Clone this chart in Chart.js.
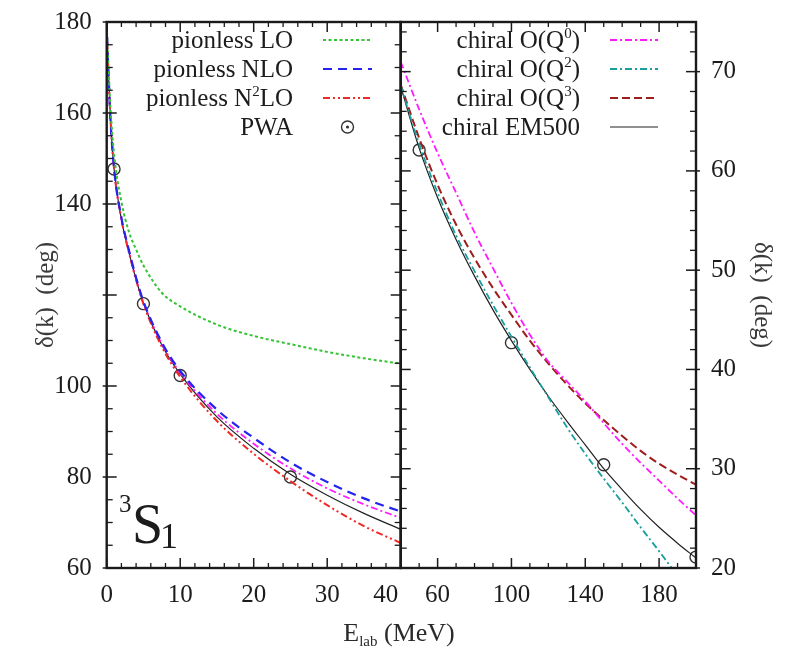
<!DOCTYPE html>
<html><head><meta charset="utf-8">
<script src="https://cdn.jsdelivr.net/npm/chart.js@4.4.1/dist/chart.umd.min.js"></script>
<style>
html,body{margin:0;padding:0;background:#fff;}
#wrap{position:relative;width:795px;height:648px;}
canvas{position:absolute;left:0;top:0;}
</style></head><body>
<div id="wrap"><canvas id="cL" width="795" height="648"></canvas><canvas id="cR" width="795" height="648"></canvas></div>
<script>
// ---------- data ----------
const E_LEFT = [0, 0.1, 0.25, 0.5, 1, 2, 3, 4, 5, 7.5, 10, 15, 20, 25, 30, 35, 40];
const PIONLESS_LO   = [180, 175, 170, 161.5, 151, 140.5, 134, 130, 126.5, 120.5, 117.5, 113.5, 111, 109.2, 107.5, 106.1, 104.9];
const PIONLESS_NLO  = [180, 174.5, 168.5, 159, 147.9, 137, 130, 123.8, 118.6, 109.6, 103.3, 94.8, 88.6, 83.2, 78.9, 75.3, 72.4];
const PIONLESS_N2LO = [180, 174.5, 168.5, 159, 147.7, 136.6, 129.5, 123.3, 118, 108.6, 102, 92.3, 85.1, 79.1, 73.8, 69.2, 65.5];
const CHIRAL_Q0_LEFT    = [180, 174.5, 168.5, 159, 147.8, 136.8, 129.8, 123.6, 118.4, 109.3, 102.9, 93.9, 87.3, 81.9, 77.5, 74, 71];
const CHIRAL_EM500_LEFT = [180, 174.5, 168.5, 159, 147.7, 136.6, 129.6, 123.4, 118.2, 109, 102.6, 93.2, 86.3, 80.6, 76, 72, 68.5];
const PWA_E_LEFT = [1, 5, 10, 25];
const PWA_LEFT   = [147.7, 118.1, 102.3, 80.0];

const E_RIGHT = [40, 50, 60, 70, 80, 90, 100, 110, 120, 130, 140, 150, 160, 170, 180, 190, 200];
const CHIRAL_Q0_RIGHT    = [71, 66.2, 61.8, 57.8, 53.8, 50.2, 46.7, 43.5, 40.8, 38.8, 36.8, 34.6, 32.5, 30.6, 28.8, 27, 25.3];
const CHIRAL_Q2_RIGHT    = [68.6, 62.7, 57.8, 53.5, 49.9, 46.5, 43.3, 40.2, 37.2, 34.2, 31.5, 29.0, 26.6, 24.1, 21.7, 19.2, 16.7];
const CHIRAL_Q3_RIGHT    = [68.7, 63.3, 58.6, 54.6, 51.2, 48.2, 45.5, 42.9, 40.6, 38.5, 36.6, 34.9, 33.3, 31.8, 30.5, 29.4, 28.4];
const CHIRAL_EM500_RIGHT = [68.5, 62.3, 57.3, 53.1, 49.4, 46.0, 42.9, 40.0, 37.3, 34.8, 32.4, 30.0, 27.9, 25.9, 24.1, 22.5, 21.0];
const PWA_E_RIGHT = [50, 100, 150, 200];
const PWA_RIGHT   = [62.1, 42.7, 30.4, 21.1];

// tick values
const LEFT_X_LABELS  = [0, 10, 20, 30, 40];
const LEFT_X_MINOR   = [2, 4, 6, 8, 12, 14, 16, 18, 22, 24, 26, 28, 32, 34, 36, 38];
const LEFT_Y_MAJOR   = [60, 80, 100, 120, 140, 160, 180];
const LEFT_Y_LABELS  = [60, 80, 100, 140, 160, 180];
const LEFT_Y_MINOR   = [65, 70, 75, 85, 90, 95, 105, 110, 115, 125, 130, 135, 145, 150, 155, 165, 170, 175];
const RIGHT_X_LABELS = [60, 100, 140, 180];
const RIGHT_X_MINOR  = [50, 70, 80, 90, 110, 120, 130, 150, 160, 170, 190];
const RIGHT_Y_LABELS = [20, 30, 40, 50, 60, 70];
const RIGHT_Y_MINOR  = [22, 24, 26, 28, 32, 34, 36, 38, 42, 44, 46, 48, 52, 54, 56, 58, 62, 64, 66, 68, 72, 74];

// ---------- helpers ----------
const FONT = "'Liberation Serif', 'Times New Roman', serif";
const TXT = '#1c1c1c';
const pts = (xs, ys) => xs.map((x, i) => ({x: x, y: ys[i]}));
const curve = {pointRadius: 0, fill: false, cubicInterpolationMode: 'monotone', tension: 0};
const SUP = {'⁰':'0','¹':'1','²':'2','³':'3','⁴':'4','⁵':'5','⁶':'6','⁷':'7','⁸':'8','⁹':'9'};

function runs(text) {
  const out = [];
  for (const ch of text) {
    const sup = ch in SUP;
    const c = sup ? SUP[ch] : ch;
    if (out.length && out[out.length - 1].sup === sup) out[out.length - 1].t += c;
    else out.push({t: c, sup: sup});
  }
  return out;
}
function drawRichRight(ctx, text, xRight, yMid, size) {
  const rs = runs(text);
  const f = s => `${s}px ${FONT}`;
  let w = 0;
  rs.forEach(r => { ctx.font = f(r.sup ? size * 0.6 : size); r.w = ctx.measureText(r.t).width; w += r.w; });
  let x = xRight - w;
  const base = yMid + size * 0.32;
  ctx.textAlign = 'left'; ctx.textBaseline = 'alphabetic'; ctx.fillStyle = TXT;
  rs.forEach(r => {
    ctx.font = f(r.sup ? size * 0.6 : size);
    ctx.fillText(r.t, x, r.sup ? base - size * 0.4 : base);
    x += r.w;
  });
}

const panelDeco = {
  id: 'panelDeco',
  afterDatasetsDraw(chart, args, o) {
    const {ctx, chartArea: a, scales} = chart;
    const sx = scales.x, sy = scales.y;
    ctx.save();
    ctx.strokeStyle = '#1a1a1a';
    ctx.setLineDash([]);
    const seg = (x1, y1, x2, y2, w) => { ctx.lineWidth = w; ctx.beginPath(); ctx.moveTo(x1, y1); ctx.lineTo(x2, y2); ctx.stroke(); };
    o.xMajor.forEach(v => { const x = sx.getPixelForValue(v); seg(x, a.bottom, x, a.bottom - 10, 1.5); seg(x, a.top, x, a.top + 10, 1.5); });
    o.xMinor.forEach(v => { const x = sx.getPixelForValue(v); seg(x, a.bottom, x, a.bottom - 5, 1.3); seg(x, a.top, x, a.top + 5, 1.3); });
    const outer = o.yOuter === 'left' ? a.left : a.right;
    const inner = o.yOuter === 'left' ? a.right : a.left;
    const dOut = o.yOuter === 'left' ? 1 : -1;
    o.yMajor.forEach(v => { const y = sy.getPixelForValue(v);
      seg(outer - 4 * dOut, y, outer + 10 * dOut, y, 1.5); seg(inner, y, inner - 10 * dOut, y, 1.5); });
    o.yMinor.forEach(v => { const y = sy.getPixelForValue(v);
      seg(outer, y, outer + 6 * dOut, y, 1.3); seg(inner, y, inner - 6 * dOut, y, 1.3); });
    ctx.lineWidth = 2.4;
    ctx.strokeRect(a.left, a.top, a.right - a.left, a.bottom - a.top);

    // legend
    const L = o.legend;
    let row = 0;
    chart.data.datasets.forEach(ds => {
      if (ds.noLegend) return;
      const y = L.rows[row++];
      drawRichRight(ctx, ds.label, L.right, y, L.size);
      ctx.save();
      if (ds.showLine === false) {
        const cx = (L.x1 + L.x2) / 2;
        ctx.strokeStyle = ds.pointBorderColor; ctx.lineWidth = ds.pointBorderWidth;
        ctx.beginPath(); ctx.arc(cx, y, 6, 0, Math.PI * 2); ctx.stroke();
        ctx.fillStyle = ds.pointBorderColor;
        ctx.beginPath(); ctx.arc(cx, y, 1.6, 0, Math.PI * 2); ctx.fill();
      } else {
        ctx.strokeStyle = ds.borderColor; ctx.lineWidth = ds.borderWidth;
        ctx.setLineDash(ds.borderDash || []);
        ctx.beginPath(); ctx.moveTo(L.x1, y); ctx.lineTo(L.x2, y); ctx.stroke();
      }
      ctx.restore();
    });
    if (o.extra) o.extra(ctx, a);
    ctx.restore();
  }
};

function tickCfg(labels) {
  return s => { s.ticks = labels.map(v => ({value: v})); };
}
const tickFont = {family: FONT, size: 25};

// ---------- left panel ----------
new Chart(document.getElementById('cL'), {
  type: 'line',
  data: {datasets: [
    {label: 'pionless LO', data: pts(E_LEFT, PIONLESS_LO), borderColor: '#35c435', borderWidth: 2, borderDash: [3, 2.5], ...curve},
    {label: 'pionless NLO', data: pts(E_LEFT, PIONLESS_NLO), borderColor: '#2424ee', borderWidth: 2.2, borderDash: [9, 6], ...curve},
    {label: 'pionless N²LO', data: pts(E_LEFT, PIONLESS_N2LO), borderColor: '#f02828', borderWidth: 2, borderDash: [7, 3, 2, 3, 2, 3], ...curve},
    {label: 'PWA', data: pts(PWA_E_LEFT, PWA_LEFT), showLine: false, pointRadius: 6, pointStyle: 'circle',
     pointBorderColor: '#333333', pointBackgroundColor: 'rgba(0,0,0,0)', pointBorderWidth: 1.4, borderColor: '#333333'},
    {label: 'chiral O(Q⁰)', noLegend: true, data: pts(E_LEFT, CHIRAL_Q0_LEFT), borderColor: '#ff1aff', borderWidth: 1.8, borderDash: [7, 3, 2, 3], ...curve},
    {label: 'chiral EM500', noLegend: true, data: pts(E_LEFT, CHIRAL_EM500_LEFT), borderColor: '#222222', borderWidth: 1.2, ...curve}
  ]},
  options: {
    responsive: false, animation: false, events: [],
    layout: {autoPadding: false, padding: {left: 0, top: 14, right: 795 - 400.7, bottom: 0}},
    plugins: {
      legend: {display: false}, tooltip: {enabled: false},
      panelDeco: {
        xMajor: LEFT_X_LABELS, xMinor: LEFT_X_MINOR, yMajor: LEFT_Y_MAJOR, yMinor: LEFT_Y_MINOR, yOuter: 'left',
        legend: {right: 293, x1: 323, x2: 372, rows: [40, 69, 98, 127], size: 25},
        extra: (ctx) => {
          ctx.fillStyle = TXT; ctx.textBaseline = 'alphabetic'; ctx.textAlign = 'left';
          // 3S1 label
          ctx.font = `25px ${FONT}`; ctx.fillText('3', 119, 512);
          ctx.font = `56px ${FONT}`; ctx.fillText('S', 132, 543);
          ctx.font = `36px ${FONT}`; ctx.fillText('1', 160, 548);
          // x-axis title  E_lab (MeV)
          const parts = [{t: 'E', s: 26, dy: 0}, {t: 'lab', s: 15, dy: 5}, {t: ' (MeV)', s: 26, dy: 0}];
          let w = 0;
          parts.forEach(p => { ctx.font = `${p.s}px ${FONT}`; p.w = ctx.measureText(p.t).width; w += p.w; });
          let x = 399 - w / 2;
          ctx.fillStyle = '#2a2a2a';
          parts.forEach(p => { ctx.font = `${p.s}px ${FONT}`; ctx.fillText(p.t, x, 641 + p.dy); x += p.w; });
        }
      }
    },
    scales: {
      x: {type: 'linear', min: 0, max: 40, position: 'bottom', grid: {display: false}, border: {display: false},
          afterBuildTicks: tickCfg(LEFT_X_LABELS), afterFit: s => { s.height = 80; },
          ticks: {font: tickFont, color: TXT, padding: 4, maxRotation: 0, autoSkip: false,
                  callback: v => (v === 40 ? '40    \u2009' : String(v))}},
      y: {type: 'linear', min: 60, max: 180, position: 'left', grid: {display: false}, border: {display: false},
          afterBuildTicks: tickCfg(LEFT_Y_LABELS), afterFit: s => { s.width = 106.7; },
          ticks: {font: tickFont, color: TXT, padding: 7, autoSkip: false},
          title: {display: true, text: 'δ(k)  (deg)', font: {family: FONT, size: 25}, color: '#3a3a3a', padding: {top: 31, bottom: 0}}}
    }
  },
  plugins: [panelDeco]
});

// ---------- right panel ----------
new Chart(document.getElementById('cR'), {
  type: 'line',
  data: {datasets: [
    {label: 'chiral O(Q⁰)', data: pts(E_RIGHT, CHIRAL_Q0_RIGHT), borderColor: '#ff1aff', borderWidth: 1.8, borderDash: [7, 3, 2, 3], ...curve},
    {label: 'chiral O(Q²)', data: pts(E_RIGHT, CHIRAL_Q2_RIGHT), borderColor: '#1a9e9e', borderWidth: 1.8, borderDash: [7, 3, 2, 3], ...curve},
    {label: 'chiral O(Q³)', data: pts(E_RIGHT, CHIRAL_Q3_RIGHT), borderColor: '#9e1e1e', borderWidth: 2, borderDash: [8, 4], ...curve},
    {label: 'chiral EM500', data: pts(E_RIGHT, CHIRAL_EM500_RIGHT), borderColor: '#222222', borderWidth: 1.2, ...curve},
    {label: 'PWA', noLegend: true, data: pts(PWA_E_RIGHT, PWA_RIGHT), showLine: false, pointRadius: 6, pointStyle: 'circle',
     pointBorderColor: '#333333', pointBackgroundColor: 'rgba(0,0,0,0)', pointBorderWidth: 1.4, borderColor: '#333333'}
  ]},
  options: {
    responsive: false, animation: false, events: [],
    layout: {autoPadding: false, padding: {left: 400.7, top: 14, right: 0, bottom: 0}},
    plugins: {
      legend: {display: false}, tooltip: {enabled: false},
      panelDeco: {
        xMajor: RIGHT_X_LABELS, xMinor: RIGHT_X_MINOR, yMajor: RIGHT_Y_LABELS, yMinor: RIGHT_Y_MINOR, yOuter: 'right',
        legend: {right: 580, x1: 610, x2: 658, rows: [40, 69, 98, 127], size: 25}
      }
    },
    scales: {
      x: {type: 'linear', min: 40, max: 200, position: 'bottom', grid: {display: false}, border: {display: false},
          afterBuildTicks: tickCfg(RIGHT_X_LABELS), afterFit: s => { s.height = 80; },
          ticks: {font: tickFont, color: TXT, padding: 4, maxRotation: 0, autoSkip: false}},
      y: {type: 'linear', min: 20, max: 75, position: 'right', grid: {display: false}, border: {display: false},
          afterBuildTicks: tickCfg(RIGHT_Y_LABELS), afterFit: s => { s.width = 99; },
          ticks: {font: tickFont, color: TXT, padding: 7, autoSkip: false},
          title: {display: true, text: 'δ(k)  (deg)', font: {family: FONT, size: 25}, color: '#3a3a3a', padding: {top: 18, bottom: 0}}}
    }
  },
  plugins: [panelDeco]
});
</script>
</body></html>
